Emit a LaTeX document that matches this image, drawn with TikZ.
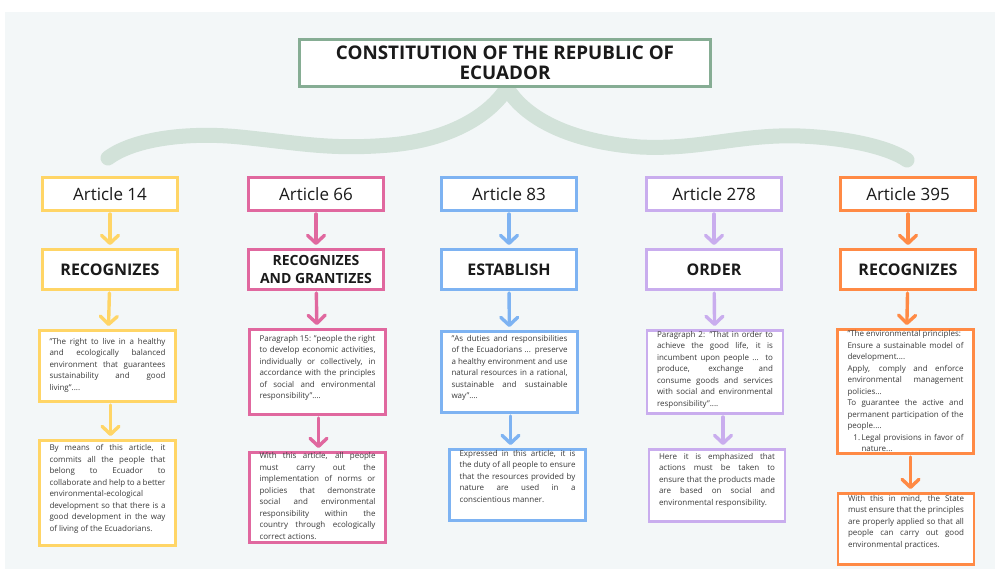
\documentclass[tikz,border=0pt]{standalone}
\usepackage{fontspec}
\setmainfont{Open Sans}
\usetikzlibrary{arrows.meta}
\definecolor{panel}{HTML}{F3F7F8}
\definecolor{leaf}{HTML}{D2E2D9}
\definecolor{sage}{HTML}{86AD94}
\definecolor{sun}{HTML}{FFD566}
\definecolor{rose}{HTML}{E0689F}
\definecolor{sky}{HTML}{7EB3F2}
\definecolor{lilac}{HTML}{C9ADEE}
\definecolor{tangerine}{HTML}{FF8A45}
\definecolor{ink}{HTML}{3B3B3B}
\definecolor{heading}{HTML}{1A1A1A}
\newcommand{\boxtext}[3]{\parbox[t][#2][t]{116pt}{\color{ink}\fontsize{8}{11.5}\selectfont
  \hyphenpenalty=10000 \tolerance=10000 \vspace*{#1}\strut#3}}
\tikzset{
  titlebox/.style={draw=sage, line width=2.6pt, fill=white, minimum width=411pt, minimum height=47pt,
    align=center, text=heading, font=\bfseries\fontsize{18.8}{20}\selectfont},
  artbox/.style={draw=#1, line width=2.6pt, fill=white, minimum width=135.5pt, minimum height=33.4pt,
    text=heading, font=\fontsize{17}{20}\selectfont},
  verbbox/.style={draw=#1, line width=2.6pt, fill=white, minimum width=135.5pt, minimum height=40.4pt,
    align=center, text=heading},
  txtbox/.style={draw=#1, line width=2.6pt, fill=white, inner xsep=10pt, inner ysep=0pt, anchor=north},
  link/.style={draw=#1, line width=3.4pt, line cap=round,
    -{Straight Barb[length=8pt,width=17pt,line cap=round,line join=round]}, shorten <=2pt, shorten >=3pt}
}
\begin{document}
\begin{tikzpicture}[x=1pt, y=-1pt]
  \useasboundingbox (0,0) rectangle (995,569);
  \fill[white] (0,0) rectangle (995,569);
  \fill[panel] (5,12) rectangle (995,569);
  % brace under the title
  \draw[leaf, line width=15pt, line cap=round] (108,158) .. controls (135,138) and (190,132) .. (240,137)
    .. controls (300,143) and (330,150) .. (390,145) .. controls (450,140) and (490,115) .. (507,88)
    .. controls (525,118) and (570,142) .. (640,147) .. controls (700,150) and (740,134) .. (800,136)
    .. controls (850,138) and (890,148) .. (907,160);
  \node[titlebox] (title) at (505,63) {CONSTITUTION OF THE REPUBLIC OF\\ECUADOR};
  \foreach \num/\x/\col/\act/\size in {14/110/sun/RECOGNIZES/16, 66/316/rose/{RECOGNIZES\\AND GRANTIZES}/14,
      83/509/sky/ESTABLISH/16, 278/714/lilac/ORDER/16, 395/908/tangerine/RECOGNIZES/16}{
    \node[artbox=\col] (art\num) at (\x,194) {Article \num};
    \node[verbbox=\col, font=\bfseries\fontsize{\size}{18.5}\selectfont] (verb\num) at (\x,269.5) {\act};
    \draw[link=\col] (art\num) -- (verb\num);
  }
  % quotes from the articles
  \node[txtbox=sun] (quote14) at (107.5,329) {\boxtext{6pt}{71.4pt}{"The right to live in a healthy\linebreak
    and ecologically balanced\linebreak environment that guarantees\linebreak sustainability and good\linebreak living"....}};
  \node[txtbox=rose] (quote66) at (317.5,328) {\boxtext{4pt}{85.4pt}{Paragraph 15: "people the right\linebreak
    to develop economic activities,\linebreak individually or collectively, in\linebreak accordance with the principles\linebreak
    of social and environmental\linebreak responsibility"....}};
  \node[txtbox=sky] (quote83) at (509.5,330) {\boxtext{2pt}{81.4pt}{"As duties and responsibilities\linebreak
    of the Ecuadorians ... preserve\linebreak a healthy environment and use\linebreak natural resources in a rational,\linebreak
    sustainable and sustainable\linebreak way"....}};
  \node[txtbox=lilac] (quote278) at (715,329) {\boxtext{-1pt}{83.4pt}{Paragraph 2: "That in order to\linebreak
    achieve the good life, it is\linebreak incumbent upon people ... to\linebreak produce, exchange and\linebreak
    consume goods and services\linebreak with social and environmental\linebreak responsibility"....}};
  \node[txtbox=tangerine] (quote395) at (905.5,328) {\boxtext{-0.5pt}{124.4pt}{"The environmental principles:\\
    Ensure a sustainable model of\linebreak development....\par
    Apply, comply and enforce\linebreak environmental management\linebreak policies...\par
    To guarantee the active and\linebreak permanent participation of the\linebreak people....\par
    {\leftskip=14pt \noindent\llap{1.\,}Legal provisions in favor of\linebreak nature...\par}}};
  % what each article means
  \node[txtbox=sun] (note14) at (107.5,439) {\boxtext{2.5pt}{105.4pt}{By means of this article, it\linebreak
    commits all the people that\linebreak belong to Ecuador to\linebreak collaborate and help to a better\linebreak
    environmental-ecological\\ development so that there is a\linebreak good development in the way\linebreak
    of living of the Ecuadorians.}};
  \node[txtbox=rose] (note66) at (317.5,451) {\boxtext{-1.5pt}{90.4pt}{With this article, all people\linebreak
    must carry out the\linebreak implementation of norms or\linebreak policies that demonstrate\linebreak
    social and environmental\linebreak responsibility within the\linebreak country through ecologically\linebreak correct actions.}};
  \node[txtbox=sky] (note83) at (517.5,448) {\boxtext{-1pt}{71.4pt}{Expressed in this article, it is\linebreak
    the duty of all people to ensure\linebreak that the resources provided by\linebreak nature are used in a\linebreak
    conscientious manner.}};
  \node[txtbox=lilac] (note278) at (717,448) {\boxtext{2pt}{72.4pt}{Here it is emphasized that\linebreak
    actions must be taken to\linebreak ensure that the products made\linebreak are based on social and\linebreak
    environmental responsibility.}};
  \node[txtbox=tangerine] (note395) at (906,492) {\boxtext{0pt}{71.4pt}{With this in mind, the State\linebreak
    must ensure that the principles\linebreak are properly applied so that all\linebreak people can carry out good\linebreak
    environmental practices.}};
  \draw[link=sun] (verb14) -- (quote14);
  \draw[link=rose] (verb66) -- (quote66);
  \draw[link=sky] (verb83) -- (quote83);
  \draw[link=lilac] (verb278) -- (quote278);
  \draw[link=tangerine] (verb395) -- (quote395);
  \draw[link=sun] ([xshift=3pt]quote14.south) -- ([xshift=3pt]quote14.south |- note14.north);
  \draw[link=rose] ([xshift=1pt]quote66.south) -- ([xshift=1pt]quote66.south |- note66.north);
  \draw[link=sky] ([xshift=1pt]quote83.south) -- ([xshift=1pt]quote83.south |- note83.north);
  \draw[link=lilac] ([xshift=8pt]quote278.south) -- ([xshift=8pt]quote278.south |- note278.north);
  \draw[link=tangerine] ([xshift=5pt]quote395.south) -- ([xshift=5pt]quote395.south |- note395.north);
\end{tikzpicture}
\end{document}
